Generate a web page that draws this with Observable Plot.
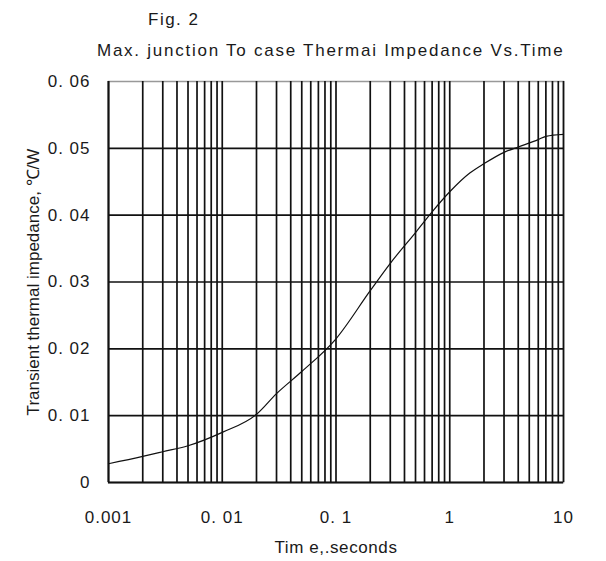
<!DOCTYPE html>
<html><head><meta charset="utf-8">
<script src="https://cdn.jsdelivr.net/npm/d3@7"></script>
<script src="https://cdn.jsdelivr.net/npm/@observablehq/plot@0.6"></script>
<style>
body{margin:0;background:#fff;font-family:"Liberation Sans",Arial,sans-serif;color:#1a1a1a}
#wrap{position:relative;width:606px;height:561px;overflow:hidden}
#fig{position:absolute;left:148px;top:10px;font-size:17px;letter-spacing:1.5px;white-space:nowrap}
#title{position:absolute;left:97px;top:41px;font-size:17px;letter-spacing:1.75px;white-space:nowrap}
#chart{position:absolute;left:0;top:70px}
#chart svg g[aria-label="x-axis tick label"] text, #chart svg g[aria-label="y-axis tick label"] text{letter-spacing:1px}
#chart svg g[aria-label="x-axis label"] text{letter-spacing:0.6px}
</style></head>
<body>
<div id="wrap">
  <div id="fig">Fig. 2</div>
  <div id="title">Max. junction To case Thermai Impedance Vs.Time</div>
  <div id="chart"></div>
</div>
<script>
const times = [0.001,0.002,0.003,0.005,0.01,0.02,0.03,0.05,0.1,0.2,0.3,0.5,0.7,1,1.5,2,3,4,6,7,10];
const impedance = [0.0028,0.0039,0.0046,0.0055,0.0075,0.0102,0.0133,0.0166,0.0215,0.0287,0.0328,0.0374,0.0405,0.0435,0.0463,0.0477,0.0494,0.0502,0.0513,0.0518,0.0521];
const xTicks = [0.001,0.01,0.1,1,10];
const xTickLabels = ["0.001","0. 01","0. 1","1","10"];
const yTicks = [0,0.01,0.02,0.03,0.04,0.05,0.06];
const yTickLabels = ["0","0. 01","0. 02","0. 03","0. 04","0. 05","0. 06"];
const gridTimes = [0.001,0.002,0.003,0.004,0.005,0.006,0.007,0.008,0.009,
  0.01,0.02,0.03,0.04,0.05,0.06,0.07,0.08,0.09,
  0.1,0.2,0.3,0.4,0.5,0.6,0.7,0.8,0.9,
  1,2,3,4,5,6,7,8,9,10];
const gridValues = [0.01,0.02,0.03,0.04,0.05];

const data = times.map((t,i)=>({t, z: impedance[i]}));

const chart = Plot.plot({
  width: 606,
  height: 491,
  marginLeft: 108,
  marginRight: 43,
  marginTop: 11,
  marginBottom: 79,
  style: {fontFamily: '"Liberation Sans", Arial, sans-serif', fontSize: "15px", color: "#1a1a1a", background: "#fff"},
  x: {type: "log", domain: [0.001, 10]},
  y: {domain: [0, 0.06]},
  marks: [
    Plot.frame({stroke: "#999", strokeWidth: 1.5}),
    Plot.ruleX(gridTimes, {stroke: "#111", strokeWidth: 1.7}),
    Plot.ruleY(gridValues, {stroke: "#111", strokeWidth: 1.7}),
    Plot.ruleX([0.001], {stroke: "#111", strokeWidth: 1.7}),
    Plot.ruleY([0], {stroke: "#111", strokeWidth: 1.9}),
    Plot.axisX({ticks: xTicks, tickSize: 0, tickPadding: 28, tickFormat: d=>xTickLabels[xTicks.indexOf(d)], fontSize: 17,
      label: "Tim e,.seconds", labelAnchor: "center", labelOffset: 70, labelArrow: "none"}),
    Plot.axisY({ticks: yTicks, tickSize: 0, tickPadding: 18, tickFormat: d=>yTickLabels[yTicks.findIndex(v=>Math.abs(v-d)<1e-9)], fontSize: 17,
      label: "Transient thermal impedance, ℃/W", labelAnchor: "center", labelOffset: 82, labelArrow: "none",
      fontFamily: '"Liberation Sans Narrow", "Liberation Sans", sans-serif'}),
    Plot.line(data, {x: "t", y: "z", stroke: "#111", strokeWidth: 1.2, curve: "monotone-x"})
  ]
});
document.getElementById("chart").appendChild(chart);
</script>
</body></html>
